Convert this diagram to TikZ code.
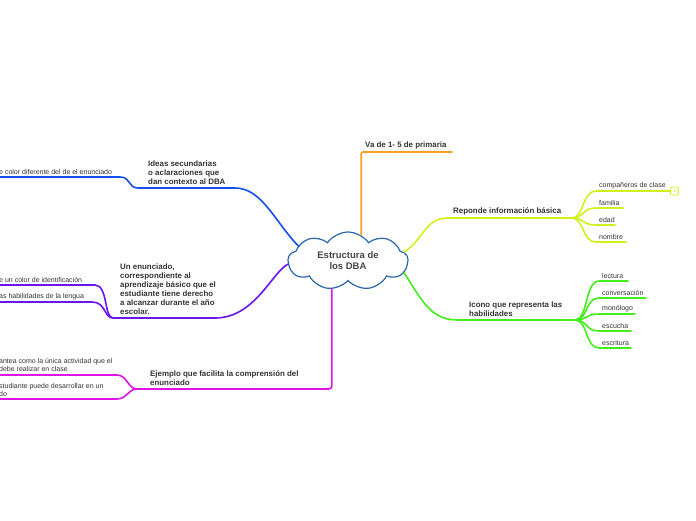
\documentclass[tikz,border=0pt]{standalone}
\usepackage{fontspec}
\setmainfont{Liberation Sans}
\usetikzlibrary{shapes.symbols, positioning}
\definecolor{cloudblue}{HTML}{2A66AA}
\definecolor{txtgray}{HTML}{333333}
\definecolor{brorange}{HTML}{F5A01E}
\definecolor{bryellow}{HTML}{D2F01E}
\definecolor{brgreen}{HTML}{44EE1A}
\definecolor{brblue}{HTML}{1450EE}
\definecolor{brpurple}{HTML}{6A14EE}
\definecolor{brpink}{HTML}{E014E8}
\tikzset{
    topic/.style={font=\bfseries\fontsize{7.9}{9}\selectfont, text=txtgray, align=left, inner sep=0pt, anchor=south west},
    leaf/.style={font=\fontsize{7}{8}\selectfont, text=txtgray, align=left, inner sep=0pt, anchor=south west},
    branch/.style={line width=1.6pt, line cap=round},
    badge/.style={draw=bryellow, rounded corners=2pt, line width=0.8pt, minimum size=8pt, inner sep=0pt, font=\fontsize{5.5}{6}\selectfont, text=bryellow, anchor=west}
}

\begin{document}
\begin{tikzpicture}[x=1pt, y=-1pt]
            \useasboundingbox (0,0) rectangle (696,520);

            % Central topic
            \node[cloud, cloud puffs=9, cloud puff arc=110, aspect=2.6, inner sep=0pt, draw=cloudblue, line width=1.2pt, fill=white, minimum width=120pt, minimum height=58pt, font=\bfseries\fontsize{9.5}{11}\selectfont, text=txtgray!90, align=center] (dba) at (348,261) {Estructura de\\los DBA};

            % Va de 1- 5 de primaria
            \coordinate (vaE) at (452,152);
            \draw[branch, brorange, rounded corners=2pt] (dba.63) |- (vaE);
            \node[topic] (va) at (365,149) {Va de 1- 5 de primaria};

            % Reponde informacion basica
            \coordinate (respJ) at (572,218);
            \draw[branch, bryellow] (dba.9) .. controls (425,238) and (425,218) .. (448,218) -- (respJ);
            \node[topic] (resp) at (453,215) {Reponde información básica};
            \coordinate (compE) at (670,191);
            \coordinate (famE) at (623,208);
            \coordinate (edadE) at (615,225);
            \coordinate (nomE) at (626,242);
            \draw[branch, bryellow] (respJ) .. controls (584,218) and (582,191) .. (596,191) -- (compE);
            \draw[branch, bryellow] (respJ) .. controls (584,218) and (582,208) .. (596,208) -- (famE);
            \draw[branch, bryellow] (respJ) .. controls (584,218) and (582,225) .. (596,225) -- (edadE);
            \draw[branch, bryellow] (respJ) .. controls (584,218) and (582,242) .. (596,242) -- (nomE);
            \node[badge] (num) at (compE) {1};
            \node[leaf] (comp) at (599,189) {compañeros de clase};
            \node[leaf] (fam) at (599,206) {familia};
            \node[leaf] (edad) at (599,223) {edad};
            \node[leaf] (nom) at (599,240) {nombre};

            % Icono que representa las habilidades
            \coordinate (iconJ) at (575,320);
            \draw[branch, brgreen] (dba.348) .. controls (422,300) and (430,320) .. (458,320) -- (iconJ);
            \node[topic] (icono) at (469,317) {Icono que representa las\\habilidades};
            \coordinate (lecE) at (628,281);
            \coordinate (convE) at (646,298);
            \coordinate (monE) at (635,314);
            \coordinate (escE) at (631,331);
            \coordinate (escrE) at (631,348);
            \draw[branch, brgreen] (iconJ) .. controls (588,320) and (585,281) .. (599,281) -- (lecE);
            \draw[branch, brgreen] (iconJ) .. controls (588,320) and (585,298) .. (599,298) -- (convE);
            \draw[branch, brgreen] (iconJ) .. controls (588,320) and (585,314) .. (599,314) -- (monE);
            \draw[branch, brgreen] (iconJ) .. controls (588,320) and (585,331) .. (599,331) -- (escE);
            \draw[branch, brgreen] (iconJ) .. controls (588,320) and (585,348) .. (599,348) -- (escrE);
            \node[leaf] (lec) at (602,279) {lectura};
            \node[leaf] (conv) at (602,296) {conversación};
            \node[leaf] (mon) at (602,312) {monólogo};
            \node[leaf] (esc) at (602,329) {escucha};
            \node[leaf] (escr) at (602,346) {escritura};

            % Ideas secundarias
            \coordinate (ideaJ) at (138,188);
            \coordinate (ideaE) at (0,177);
            \draw[branch, brblue] (dba.163) .. controls (275,222) and (262,188) .. (235,188) -- (ideaJ);
            \draw[branch, brblue] (ideaJ) .. controls (128,188) and (131,177) .. (120,177) -- (ideaE);
            \node[topic] (idea) at (148,185) {Ideas secundarias\\o aclaraciones que\\dan contexto al DBA};
            \node[leaf] (color) at (-1,175) {e color diferente del de el enunciado};

            % Un enunciado
            \coordinate (enunJ) at (113,318);
            \coordinate (identE) at (0,285);
            \coordinate (lengE) at (0,302);
            \draw[branch, brpurple] (dba.183) .. controls (272,272) and (255,318) .. (215,318) -- (enunJ);
            \draw[branch, brpurple] (enunJ) .. controls (104,318) and (108,285) .. (95,285) -- (identE);
            \draw[branch, brpurple] (enunJ) .. controls (104,318) and (106,302) .. (92,302) -- (lengE);
            \node[topic] (enun) at (120,315) {Un enunciado,\\correspondiente al\\aprendizaje básico que el\\estudiante tiene derecho\\a alcanzar durante el año\\escolar.};
            \node[leaf] (ident) at (-1,283) {e un color de identificación};
            \node[leaf] (leng) at (-1,300) {as habilidades de la lengua};

            % Ejemplo
            \coordinate (ejemJ) at (137,389);
            \coordinate (claseE) at (0,375);
            \coordinate (unE) at (0,399);
            \draw[branch, brpink, rounded corners=3pt] (dba.240) |- (ejemJ);
            \draw[branch, brpink] (ejemJ) .. controls (128,389) and (127,375) .. (117,375) -- (claseE);
            \draw[branch, brpink] (ejemJ) .. controls (128,389) and (127,399) .. (117,399) -- (unE);
            \node[topic] (ejem) at (150,386) {Ejemplo que facilita la comprensión del\\enunciado};
            \node[leaf] (clase) at (-1,372) {antea como la única actividad que el\\debe realizar en clase};
            \node[leaf] (un) at (-1,397) {studiante puede desarrollar en un\\do};
\end{tikzpicture}
\end{document}
